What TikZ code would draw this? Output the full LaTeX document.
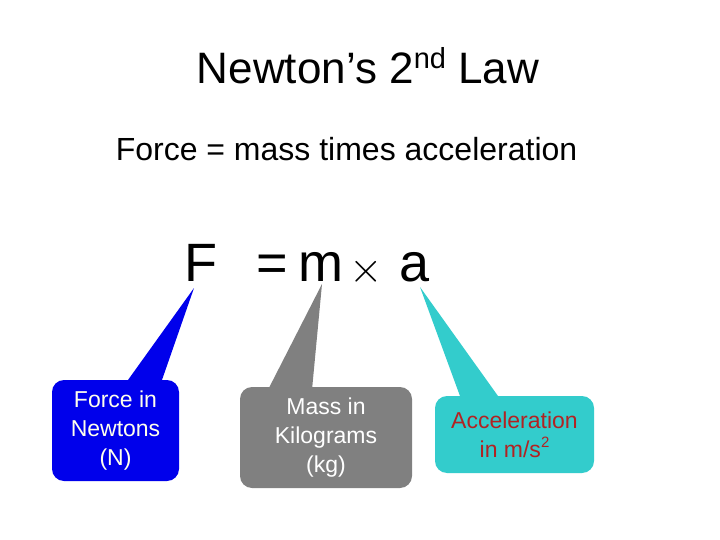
\documentclass[tikz,border=0pt]{standalone}
\usepackage{graphicx}
\usepackage{fontspec}
\setmainfont{Liberation Sans}
\definecolor{fblue}{RGB}{0,0,235}
\definecolor{mgray}{RGB}{128,128,128}
\definecolor{acyan}{RGB}{51,204,204}
\definecolor{ared}{RGB}{178,34,34}
\definecolor{cream}{RGB}{255,255,235}
\tikzset{
  callout/.style={rounded corners=12pt, inner sep=0pt, align=center,
    font=\fontsize{23}{29}\selectfont},
  eqchar/.style={anchor=base, inner sep=0pt, font=\fontsize{54}{60}\selectfont},
}
\begin{document}
\begin{tikzpicture}[x=1pt,y=-1pt]
\useasboundingbox[fill=white] (0,0) rectangle (720,540);

% titles
\node[anchor=base, inner sep=0pt, font=\fontsize{44}{50}\selectfont] (title) at (368,84)
  {Newton’s 2\raisebox{0.36em}{\fontsize{29}{30}\selectfont nd} Law};
\node[anchor=base, inner sep=0pt, font=\fontsize{32}{36}\selectfont] (sub) at (346.5,161)
  {Force = mass times acceleration};

% equation
\node[eqchar] (F) at (201,281) {F};
\node[eqchar] (eq) at (272,281) {=};
\node[eqchar] (m) at (321,281) {m};
\node[inner sep=0pt] (x) at (366,271.5) {\scalebox{4.3}{$\times$}};
\node[eqchar] (a) at (415,281) {a};

% tips
\coordinate (tipF) at (194,288);
\coordinate (tipM) at (322,284);
\coordinate (tipA) at (420,287);

% boxes
\node[callout, fill=fblue, text=cream, minimum width=127pt, minimum height=101pt] (bN) at (115.5,430.5)
  {Force in\\Newtons\\(N)};
\node[callout, fill=mgray, text=white, minimum width=172pt, minimum height=101pt] (bM) at (326,437.5)
  {Mass in\\Kilograms\\(kg)};
\node[callout, fill=acyan, text=ared, minimum width=159pt, minimum height=77pt] (bA) at (514.5,434.5)
  {Acceleration\\in m/s\raisebox{0.42em}{\fontsize{15}{15}\selectfont 2}};

% pointers
\fill[fblue] ([xshift=10.5pt,yshift=-3pt]bN.north) -- (tipF) -- ([xshift=45.5pt,yshift=-3pt]bN.north) -- cycle;
\fill[mgray] ([xshift=-58pt,yshift=-3pt]bM.north) -- (tipM) -- ([xshift=-14pt,yshift=-3pt]bM.north) -- cycle;
\fill[acyan] ([xshift=-53.5pt,yshift=-3pt]bA.north) -- (tipA) -- ([xshift=-14.5pt,yshift=-3pt]bA.north) -- cycle;
\end{tikzpicture}
\end{document}
